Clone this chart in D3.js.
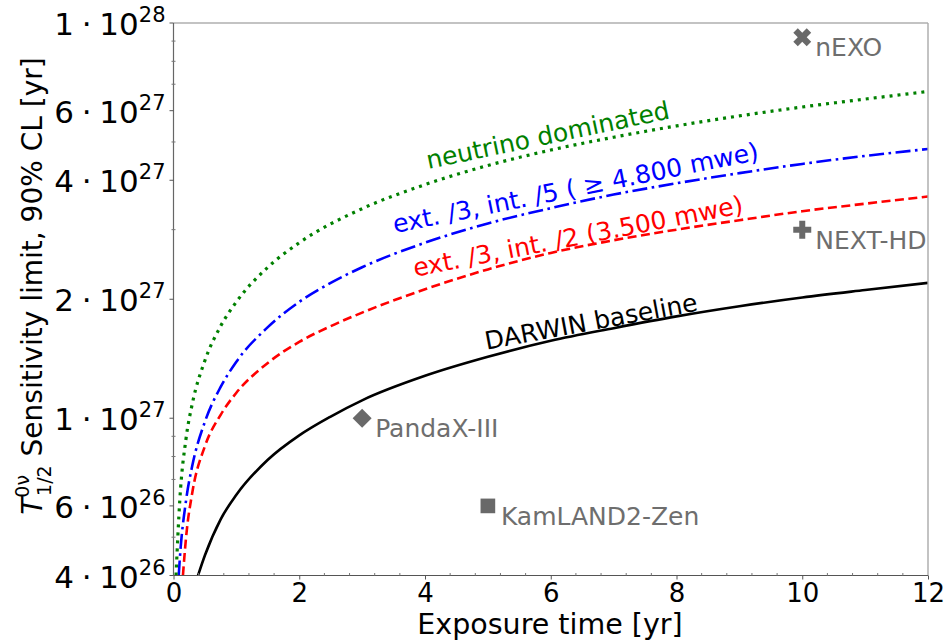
<!DOCTYPE html>
<html>
<head>
<meta charset="UTF-8">
<title>Sensitivity vs exposure</title>
<style>
  body { margin: 0; background: #fff; }
  text { font-family: "DejaVu Sans", sans-serif; }
</style>
</head>
<body>
<script src="https://d3js.org/d3.v7.min.js"></script>
<svg width="946" height="641"></svg>
<script>
    let svg = d3.select("svg"),
        width = +svg.attr("width"),
        height = +svg.attr("height");

    let margin = {top: 23, right: 18, bottom: 65.5, left: 173.5};
    let innerW = width - margin.left - margin.right,
        innerH = height - margin.top - margin.bottom;

    // exposure time [yr] and half-life limits [yr]
    let darwin_t = [0.39, 0.5, 0.75, 1, 1.5, 2, 2.5, 3, 4, 5, 6, 7, 8, 9, 10, 11, 12];
    let darwin_v = [4.0e26, 4.5e26, 5.55e26, 6.4e26, 7.85e26, 9.05e26, 1.01e27, 1.11e27, 1.28e27,
                    1.43e27, 1.57e27, 1.69e27, 1.81e27, 1.92e27, 2.02e27, 2.11e27, 2.20e27];

    let red_t = [0.15, 0.2, 0.3, 0.5, 0.75, 1, 1.5, 2, 2.5, 3, 4, 5, 6, 7, 8, 9, 10, 11, 12];
    let red_v = [4.0e26, 5.0e26, 6.5e26, 8.5e26, 1.02e27, 1.16e27, 1.38e27, 1.56e27, 1.71e27, 1.85e27,
                 2.12e27, 2.38e27, 2.62e27, 2.82e27, 3.00e27, 3.17e27, 3.34e27, 3.49e27, 3.64e27];

    let blue_t = [0.083, 0.1, 0.2, 0.3, 0.5, 0.75, 1, 1.5, 2, 2.5, 3, 4, 5, 6, 7, 8, 9, 10, 11, 12];
    let blue_v = [4.0e26, 4.4e26, 6.2e26, 7.6e26, 9.8e26, 1.20e27, 1.39e27, 1.70e27, 1.97e27, 2.20e27,
                  2.41e27, 2.78e27, 3.11e27, 3.40e27, 3.68e27, 3.93e27, 4.17e27, 4.40e27, 4.61e27, 4.80e27];

    let green_t = [0.04, 0.1, 0.2, 0.3, 0.5, 0.75, 1, 1.5, 2, 3, 4, 5, 6, 7, 8, 9, 10, 11, 12];
    let green_v = [4.0e26, 6.2e26, 8.9e26, 1.09e27, 1.40e27, 1.71e27, 1.97e27, 2.41e27, 2.78e27, 3.39e27,
                   3.90e27, 4.36e27, 4.77e27, 5.14e27, 5.49e27, 5.82e27, 6.13e27, 6.42e27, 6.71e27];

    // other experiments
    let exp_names = ['nEXO', 'NEXT-HD', 'PandaX-III', 'KamLAND2-Zen'];
    let exp_t = [10, 10, 3, 5];
    let exp_v = [9.2e27, 3.0e27, 1.0e27, 6.0e26];
    let exp_marker = ['x', 'plus', 'diamond', 'square'];

    // y tick labels (mantissa, exponent)
    let ytick_vals = [4e26, 6e26, 1e27, 2e27, 4e27, 6e27, 1e28];
    let ytick_mant = ['4', '6', '1', '2', '4', '6', '1'];
    let ytick_exp = ['26', '26', '27', '27', '27', '27', '28'];
    let yminor_vals = [5e26, 7e26, 8e26, 9e26, 3e27, 5e27, 7e27, 8e27, 9e27];
    let xtick_vals = [0, 2, 4, 6, 8, 10, 12];

    let x = d3.scaleLinear().domain([0, 12]).range([0, innerW]);
    let y = d3.scaleLog().domain([4e26, 1e28]).range([innerH, 0]);

    let g = svg.append("g").attr("transform", `translate(${margin.left},${margin.top})`);

    g.append("clipPath").attr("id", "clip")
        .append("rect").attr("width", innerW).attr("height", innerH);

    // curves
    let series = [
        {t: darwin_t, v: darwin_v, color: '#000000', dash: null, w: 2.6},
        {t: red_t, v: red_v, color: '#ff0000', dash: '9,4.5', w: 2.6},
        {t: blue_t, v: blue_v, color: '#0000ff', dash: '15,4.5,2.6,4.5', w: 2.6},
        {t: green_t, v: green_v, color: '#008000', dash: '3,5', w: 3.2}
    ];

    let line = d3.line()
        .x(d => x(d[0]))
        .y(d => y(d[1]))
        .curve(d3.curveMonotoneX);

    g.append("g").attr("clip-path", "url(#clip)")
        .selectAll("path")
        .data(series).enter()
        .append("path")
        .attr("d", s => line(s.t.map((t, i) => [t, s.v[i]])))
        .attr("fill", "none")
        .attr("stroke", s => s.color)
        .attr("stroke-width", s => s.w)
        .attr("stroke-dasharray", s => s.dash);

    // curve annotations
    let notes = [
        {text: 'neutrino dominated', t: 4.05, v: 4.27e27, angle: -11.8, color: '#008000'},
        {text: 'ext. /3, int. /5 ( \u2265 4.800 mwe)', t: 3.52, v: 2.94e27, angle: -11.4, color: '#0000ff'},
        {text: 'ext. /3, int. /2 (3.500 mwe)', t: 3.84, v: 2.28e27, angle: -11.0, color: '#ff0000'},
        {text: 'DARWIN baseline', t: 4.98, v: 1.49e27, angle: -10.5, color: '#000000'}
    ];
    g.selectAll("text.note")
        .data(notes).enter()
        .append("text")
        .attr("class", "note")
        .attr("transform", d => `translate(${x(d.t)},${y(d.v)}) rotate(${d.angle})`)
        .attr("font-size", 25)
        .attr("fill", d => d.color)
        .text(d => d.text);

    // experiment markers
    let sym = {
        x: d3.symbol().type(d3.symbolCross).size(200)(),
        plus: d3.symbol().type(d3.symbolCross).size(180)(),
        diamond: d3.symbol().type(d3.symbolSquare).size(180)(),
        square: d3.symbol().type(d3.symbolSquare).size(215)()
    };
    let rot = {x: 45, plus: 0, diamond: 45, square: 0};
    exp_names.forEach((name, i) => {
        let px = x(exp_t[i]), py = y(exp_v[i]);
        g.append("path")
            .attr("d", sym[exp_marker[i]])
            .attr("transform", `translate(${px},${py}) rotate(${rot[exp_marker[i]]})`)
            .attr("fill", "#696969");
        g.append("text")
            .attr("x", px + 13)
            .attr("y", py + 19)
            .attr("font-size", 25)
            .attr("fill", "#6e6e6e")
            .text(name);
    });

    // spines
    g.append("line").attr("x1", 0).attr("x2", innerW).attr("y1", 0).attr("y2", 0)
        .attr("stroke", "#888").attr("stroke-width", 1.2);
    g.append("line").attr("x1", innerW).attr("x2", innerW).attr("y1", 0).attr("y2", innerH)
        .attr("stroke", "#aaa").attr("stroke-width", 1.4);
    g.append("line").attr("x1", 0).attr("x2", 0).attr("y1", 0).attr("y2", innerH)
        .attr("stroke", "#666").attr("stroke-width", 1.2);
    g.append("line").attr("x1", 0).attr("x2", innerW).attr("y1", innerH).attr("y2", innerH)
        .attr("stroke", "#555").attr("stroke-width", 1.2);

    // x axis
    let xAxis = g.append("g").attr("transform", `translate(0,${innerH})`)
        .call(d3.axisBottom(x).tickValues(xtick_vals).tickSize(4).tickFormat(d3.format("d")));
    xAxis.select(".domain").remove();
    xAxis.selectAll("line").attr("stroke", "#555");
    xAxis.selectAll("text").attr("font-size", 26).attr("fill", "#000").attr("dy", "0.74em")
        .attr("font-family", "DejaVu Sans");

    let xminor = d3.range(0, 12.01, 0.4).filter(v => Math.abs(v / 2 - Math.round(v / 2)) > 1e-6);
    g.append("g").selectAll("line")
        .data(xminor).enter()
        .append("line")
        .attr("x1", d => x(d)).attr("x2", d => x(d))
        .attr("y1", innerH - 2.5).attr("y2", innerH)
        .attr("stroke", "#777");

    // y axis
    let yAxis = g.append("g");
    yAxis.selectAll("line.major")
        .data(ytick_vals).enter()
        .append("line")
        .attr("x1", -4).attr("x2", 0)
        .attr("y1", d => y(d)).attr("y2", d => y(d))
        .attr("stroke", "#555");
    yAxis.selectAll("line.minor")
        .data(yminor_vals).enter()
        .append("line")
        .attr("x1", -2).attr("x2", 2)
        .attr("y1", d => y(d)).attr("y2", d => y(d))
        .attr("stroke", "#777");
    let ylab = yAxis.selectAll("text")
        .data(ytick_vals).enter()
        .append("text")
        .attr("x", -8)
        .attr("y", d => y(d) + 12)
        .attr("text-anchor", "end")
        .attr("font-size", 31)
        .attr("fill", "#000");
    ylab.append("tspan").text((d, i) => ytick_mant[i] + "\u2005\u00b7\u2005" + "10");
    ylab.append("tspan").attr("font-size", 21).attr("dy", -13).text((d, i) => ytick_exp[i]);

    // axis titles
    svg.append("text")
        .attr("x", 550)
        .attr("y", 634)
        .attr("text-anchor", "middle")
        .attr("font-size", 28.5)
        .text("Exposure time [yr]");

    let yt = svg.append("text")
        .attr("transform", `translate(42,286) rotate(-90)`)
        .attr("text-anchor", "middle")
        .attr("font-size", 28);
    yt.append("tspan").attr("font-style", "italic").text("T");
    yt.append("tspan").attr("font-size", 19).attr("dy", -13).text("0\u03bd");
    yt.append("tspan").attr("font-size", 19).attr("dx", -21).attr("dy", 22).text("1/2");
    yt.append("tspan").attr("dy", -9).text(" Sensitivity limit, 90% CL [yr]");
</script>
</body>
</html>
